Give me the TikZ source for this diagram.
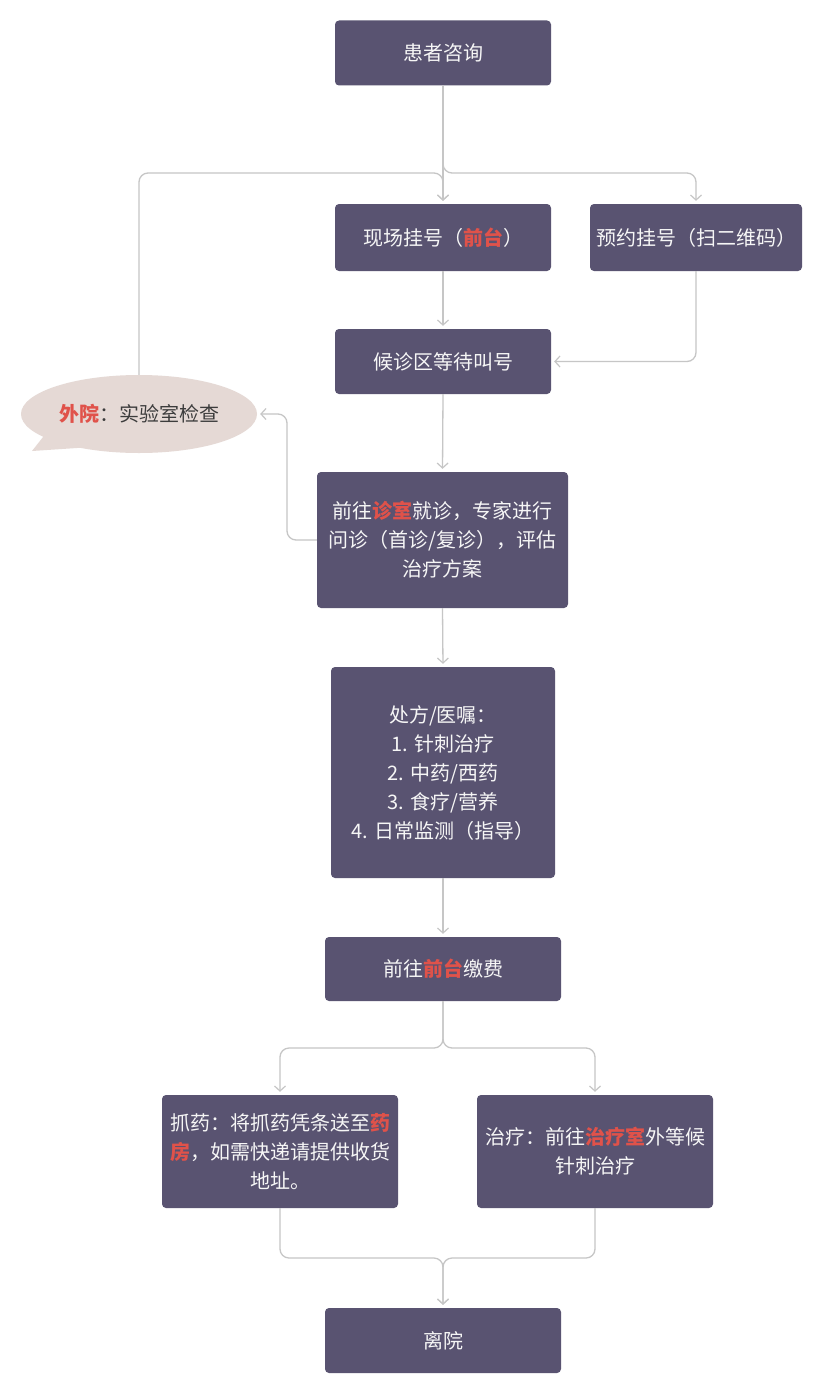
\documentclass[tikz,border=0pt]{standalone}
\usepackage{fontspec}
\setmainfont{Noto Sans CJK SC}
\usetikzlibrary{arrows.meta,shapes.geometric}
\definecolor{boxc}{RGB}{89,83,113}
\definecolor{hlc}{RGB}{224,82,74}
\definecolor{linec}{RGB}{198,198,198}
\definecolor{bubc}{RGB}{229,217,213}
\definecolor{txtc}{RGB}{246,246,246}
\newcommand{\hlt}[1]{{\color{hlc}\bfseries #1}}
\tikzset{
  flowbox/.style={rectangle, rounded corners=4pt, fill=boxc, text=txtc, align=center,
    inner sep=0pt, font={\fontsize{20}{29}\selectfont}},
  conn/.style={draw=linec, line width=1.3pt, rounded corners=9pt,
    -{Straight Barb[length=5pt,width=11pt,line width=1.2pt]}, shorten >=3pt},
  plain/.style={draw=linec, line width=1.3pt, rounded corners=9pt},
}
\begin{document}
\begin{tikzpicture}[x=1pt,y=-1pt]
\useasboundingbox (0,0) rectangle (830,1394);
\fill[white] (0,0) rectangle (830,1394);

% nodes
\node[flowbox, minimum width=216pt, minimum height=65pt] (huanzhe) at (443,53) {患者咨询};
\node[flowbox, minimum width=216pt, minimum height=67pt] (xianchang) at (443,237.5) {现场挂号（\hlt{前台}）};
\node[flowbox, minimum width=212pt, minimum height=67pt] (yuyue) at (696,237.5) {预约挂号（扫二维码）};
\node[flowbox, minimum width=216pt, minimum height=65pt] (houzhen) at (443,361.5) {候诊区等待叫号};
\node[flowbox, minimum width=251pt, minimum height=136pt] (zhenshi) at (442.5,540) {前往\hlt{诊室}就诊，专家进行\\问诊（首诊/复诊），评估\\治疗方案};
\node[flowbox, minimum width=224pt, minimum height=211pt] (chufang) at (443,772.5) {处方/医嘱：\\1. 针刺治疗\\2. 中药/西药\\3. 食疗/营养\\4. 日常监测（指导）};
\node[flowbox, minimum width=236pt, minimum height=64pt] (jiaofei) at (443,969) {前往\hlt{前台}缴费};
\node[flowbox, minimum width=236pt, minimum height=113pt] (zhuayao) at (280,1151.5) {抓药：将抓药凭条送至\hlt{药}\\\hlt{房}，如需快递请提供收货\\地址。};
\node[flowbox, minimum width=236pt, minimum height=113pt] (zhiliao) at (595,1151.5) {治疗：前往\hlt{治疗室}外等候\\针刺治疗};
\node[flowbox, minimum width=236pt, minimum height=65pt] (liyuan) at (443,1340.5) {离院};

% callout bubble
\node[ellipse, fill=bubc, minimum width=236pt, minimum height=78pt, inner sep=0pt,
  font={\fontsize{20}{29}\selectfont}, text={rgb,255:red,60;green,60;blue,60}] (waiyuan) at (139,414)
  {\hlt{外院}：实验室检查};
\fill[bubc] (47,432) -- (32,451) -- (92,447) -- cycle;

% junction coordinates
\coordinate (jtop) at (443,173);
\coordinate (jmid) at (443,1048);
\coordinate (jbot) at (443,1258);

% connectors
\draw[conn] (huanzhe.south) -- (xianchang.north);
\draw[conn] (huanzhe.south) -- (jtop) -| (yuyue.north);
\draw[conn] (waiyuan.north) |- (jtop) -- (xianchang.north);
\draw[conn] (xianchang.south) -- (houzhen.north);
\draw[conn] (yuyue.south) |- (houzhen.east);
\draw[conn] (houzhen.south) -- (zhenshi.north);
\draw[conn] (zhenshi.west) -| (287,476) |- (waiyuan.east);
\draw[conn] (zhenshi.south) -- (chufang.north);
\draw[conn] (chufang.south) -- (jiaofei.north);
\draw[conn] (jiaofei.south) -- (jmid) -| (zhuayao.north);
\draw[conn] (jiaofei.south) -- (jmid) -| (zhiliao.north);
\draw[conn] (zhuayao.south) |- (jbot) -- (liyuan.north);
\draw[conn] (zhiliao.south) |- (jbot) -- (liyuan.north);
\end{tikzpicture}
\end{document}
